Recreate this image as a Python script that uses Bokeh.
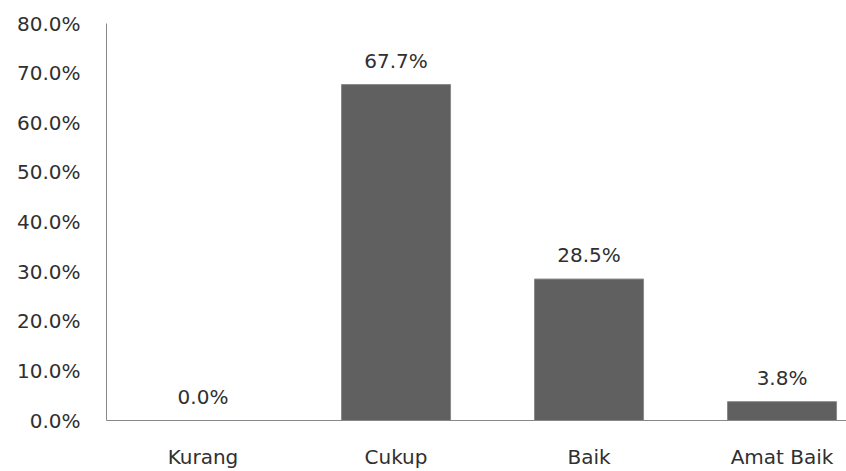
from bokeh.plotting import figure
from bokeh.models import Range1d, FixedTicker, NumeralTickFormatter, ColumnDataSource
from bokeh.core.properties import value
from bokeh.embed import file_html
from bokeh.resources import INLINE

categories = ["Kurang", "Cukup", "Baik", "Amat Baik"]
percent = [0.0, 67.7, 28.5, 3.8]
y_ticks = [0.0, 0.1, 0.2, 0.3, 0.4, 0.5, 0.6, 0.7, 0.8]

xs = [i + 0.5 for i in range(len(categories))]
tops = [v / 100 for v in percent]
labels = [f"{v:.1f}%" for v in percent]
src = ColumnDataSource(dict(x=xs, top=tops, label=labels))

FONT = "DejaVu Sans"
p = figure(width=846, height=471, output_backend="svg", toolbar_location=None,
           x_range=Range1d(0, 3.834), y_range=Range1d(0, 0.8),
           min_border_left=106, min_border_right=0, min_border_top=23, min_border_bottom=50)
p.outline_line_color = None
p.grid.grid_line_color = None
p.background_fill_color = "white"

p.vbar(x="x", top="top", width=0.565, source=src, fill_color="#606060",
       line_color="#8a8a8a", line_width=1)
p.text(x="x", y="top", text="label", source=src, text_align="center",
       text_baseline="bottom", y_offset=-12, text_font=value(FONT),
       text_font_size="20px", text_color="#303030")

p.yaxis.ticker = FixedTicker(ticks=y_ticks)
p.yaxis.formatter = NumeralTickFormatter(format="0.0%")
p.xaxis.ticker = FixedTicker(ticks=xs)
p.xaxis.major_label_overrides = {x: c for x, c in zip(xs, categories)}
for ax in (p.xaxis, p.yaxis):
    ax.axis_line_color = "#888888"
    ax.axis_line_width = 1
    ax.major_tick_line_color = None
    ax.minor_tick_line_color = None
    ax.major_tick_out = 0
    ax.major_tick_in = 0
    ax.minor_tick_out = 0
    ax.major_label_text_font = FONT
    ax.major_label_text_font_size = "20px"
    ax.major_label_text_color = "#303030"
p.yaxis.major_label_standoff = 26
p.xaxis.major_label_standoff = 24

open("out.html", "w").write(file_html(p, INLINE))
